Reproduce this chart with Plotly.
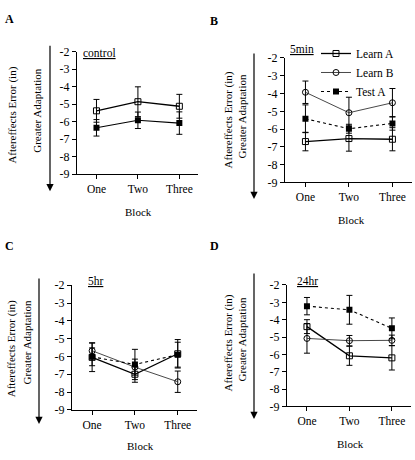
import plotly.graph_objects as go

W, H = 415, 460
FONT = "Liberation Serif, Times New Roman, serif"

blocks = ["One", "Two", "Three"]
y_ticks = [-2, -3, -4, -5, -6, -7, -8, -9]
series_names = ["Learn A", "Learn B", "Test A"]

# Panel A (control)
a_learn_a = [-5.38, -4.86, -5.12]
a_learn_a_err = [0.65, 0.85, 0.68]
a_test_a = [-6.35, -5.92, -6.08]
a_test_a_err = [0.47, 0.47, 0.64]

# Panel B (5min)
b_learn_a = [-6.70, -6.53, -6.57]
b_learn_a_err = [0.52, 0.71, 0.65]
b_learn_b = [-3.93, -5.08, -4.52]
b_learn_b_err = [0.63, 0.87, 0.80]
b_test_a = [-5.42, -5.98, -5.68]
b_test_a_err = [0.78, 0.25, 0.38]

# Panel C (5hr)
c_learn_a = [-6.05, -7.00, -5.85]
c_learn_a_err = [0.80, 0.45, 0.80]
c_learn_b = [-5.68, -6.60, -7.42]
c_learn_b_err = [0.45, 0.45, 0.60]
c_test_a = [-6.02, -6.45, -5.90]
c_test_a_err = [0.50, 0.85, 0.70]

# Panel D (24hr)
d_learn_a = [-4.40, -6.08, -6.20]
d_learn_a_err = [0.40, 0.55, 0.70]
d_learn_b = [-5.08, -5.21, -5.19]
d_learn_b_err = [0.85, 0.30, 0.30]
d_test_a = [-3.22, -3.43, -4.50]
d_test_a_err = [0.50, 0.83, 0.60]

panel_titles = ["control", "5min", "5hr", "24hr"]
panel_letters = ["A", "B", "C", "D"]


def px(x):
    return x / W


def py(y):
    return 1 - y / H


# pixel geometry of each panel: (left, right, top(-2), bottom(-9))
geom = {
    1: (77, 198, 46, 172.5),
    2: (285, 412, 52.5, 181),
    3: (72, 197, 287, 415.5),
    4: (287, 411, 286.7, 412),
}

fig = go.Figure()

STYLE = {
    "Learn A": dict(line=dict(color="black", width=1.3, dash="solid"),
                    marker=dict(symbol="square-open", size=6, color="black", line=dict(width=1))),
    "Learn B": dict(line=dict(color="#333333", width=0.9, dash="solid"),
                    marker=dict(symbol="circle-open", size=6, color="black", line=dict(width=1))),
    "Test A": dict(line=dict(color="black", width=1.1, dash="dot"),
                   marker=dict(symbol="square", size=6, color="black")),
}


def add(panel, name, vals, errs, show_legend=False, dash=None):
    st = STYLE[name]
    line = dict(st["line"])
    if dash:
        line["dash"] = dash
    xa = "x" if panel == 1 else f"x{panel}"
    ya = "y" if panel == 1 else f"y{panel}"
    fig.add_trace(go.Scatter(
        x=blocks, y=vals, name=name, mode="lines+markers",
        line=line, marker=st["marker"],
        error_y=dict(type="data", array=errs, visible=True, color="black", thickness=1, width=3),
        showlegend=show_legend, xaxis=xa, yaxis=ya,
    ))


add(1, "Learn A", a_learn_a, a_learn_a_err)
add(1, "Test A", a_test_a, a_test_a_err, dash="solid")

add(2, "Learn A", b_learn_a, b_learn_a_err, show_legend=True)
add(2, "Learn B", b_learn_b, b_learn_b_err, show_legend=True)
add(2, "Test A", b_test_a, b_test_a_err, show_legend=True)

add(3, "Learn A", c_learn_a, c_learn_a_err)
add(3, "Learn B", c_learn_b, c_learn_b_err)
add(3, "Test A", c_test_a, c_test_a_err)

add(4, "Learn A", d_learn_a, d_learn_a_err)
add(4, "Learn B", d_learn_b, d_learn_b_err)
add(4, "Test A", d_test_a, d_test_a_err)

axis_common = dict(showgrid=False, zeroline=False, showline=True, linecolor="black", linewidth=1,
                   ticks="outside", ticklen=4, tickwidth=1, tickcolor="black",
                   tickfont=dict(family=FONT, size=12, color="black"))

layout_axes = {}
for p, (l, r, t, b) in geom.items():
    sx = "" if p == 1 else str(p)
    layout_axes[f"xaxis{sx}"] = dict(axis_common, domain=[px(l), px(r)], range=[-0.47, 2.45],
                                     anchor=f"y{sx}", type="category",
                                     tickfont=dict(family=FONT, size=11.5, color="black"))
    layout_axes[f"yaxis{sx}"] = dict(axis_common, domain=[py(b), py(t)], range=[-9, -2],
                                     anchor=f"x{sx}", tickvals=y_ticks,
                                     ticktext=[str(v) for v in y_ticks])

annotations = []


def text(x, y, s, size=11, angle=0, bold=False, xanchor="center"):
    annotations.append(dict(
        x=px(x), y=py(y), xref="paper", yref="paper", text=f"<b>{s}</b>" if bold else s,
        showarrow=False, textangle=angle, xanchor=xanchor, yanchor="middle",
        font=dict(family=FONT, size=size, color="black")))


def arrow(x, y0, y1):
    annotations.append(dict(
        x=px(x), y=py(y1), xref="paper", yref="paper", ax=0, ay=-(y1 - y0),
        text="", showarrow=True, arrowhead=2, arrowsize=1.2, arrowwidth=1.2, arrowcolor="black"))


# panel letters
text(9, 12, "A", 12, bold=True)
text(214, 14, "B", 12, bold=True)
text(9, 247, "C", 12, bold=True)
text(214, 246, "D", 12, bold=True)

# panel titles (underlined)
text(81, 47, "<u>control</u>", 11.5, xanchor="left")
text(288, 43, "<u>5min</u>", 11.5, xanchor="left")
text(86, 283, "<u>5hr</u>", 11.5, xanchor="left")
text(295, 283, "<u>24hr</u>", 11.5, xanchor="left")

# y titles
text(13, 112, "Aftereffects Error (in)", 11, angle=-90)
text(37, 107, "Greater Adaptation", 11, angle=-90)
text(228, 117, "Aftereffects Error (in)", 11, angle=-90)
text(242, 113, "Greater Adaptation", 11, angle=-90)
text(11, 353, "Aftereffects Error (in)", 11, angle=-90)
text(27, 346, "Greater Adaptation", 11, angle=-90)
text(228, 347, "Aftereffects Error (in)", 11, angle=-90)
text(242, 343, "Greater Adaptation", 11, angle=-90)

# arrows
arrow(50, 43, 190)
arrow(254, 51, 198)
arrow(39, 283, 430)
arrow(254, 278, 425)

# x titles
text(138, 211, "Block", 11)
text(351, 220, "Block", 11)
text(140, 453, "Block", 11)
text(350, 451, "Block", 11)

fig.update_layout(
    width=W, height=H, margin=dict(l=0, r=0, t=0, b=0),
    paper_bgcolor="white", plot_bgcolor="white",
    font=dict(family=FONT, size=11, color="black"),
    showlegend=True,
    legend=dict(x=px(316), y=py(33), xanchor="left", yanchor="top",
                font=dict(family=FONT, size=11.5, color="black"),
                bgcolor="rgba(0,0,0,0)", tracegroupgap=0, itemwidth=30),
    annotations=annotations,
    **layout_axes,
)

fig.write_html(
    "out.html",
    config={"displayModeBar": False},
    post_script="document.body.style.margin='0';document.body.style.overflow='hidden';",
)
